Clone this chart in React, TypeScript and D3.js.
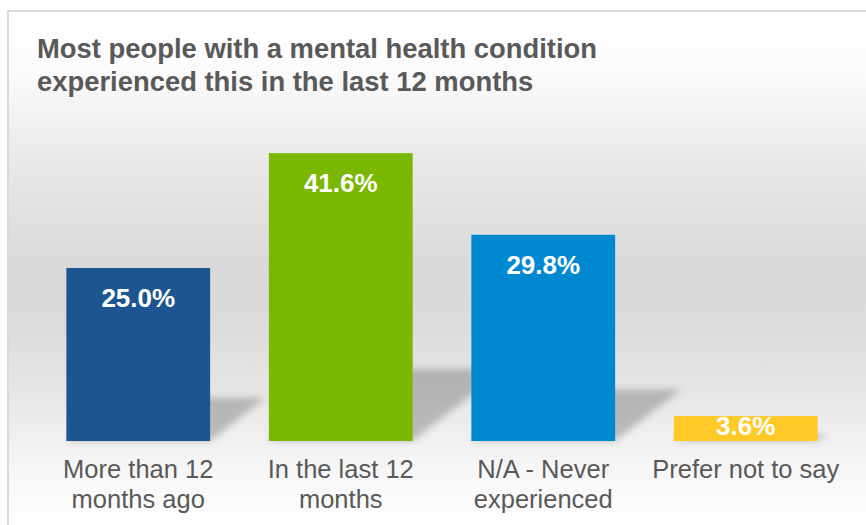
import * as d3 from "d3";

const categories = [
  "More than 12 months ago",
  "In the last 12 months",
  "N/A - Never experienced",
  "Prefer not to say",
];
const categoryLines = [
  ["More than 12", "months ago"],
  ["In the last 12", "months"],
  ["N/A - Never", "experienced"],
  ["Prefer not to say"],
];
const values = [25.0, 41.6, 29.8, 3.6];
const barColors = ["#1d5591", "#79b700", "#0089d1", "#ffc927"];
const titleLines = [
  "Most people with a mental health condition",
  "experienced this in the last 12 months",
];

const width = 866;
const height = 525;
const font = "'Liberation Sans', Arial, sans-serif";

const App = () => {
  const x = d3
    .scaleBand<string>()
    .domain(categories)
    .range([37, 847])
    .paddingInner(0.29)
    .paddingOuter(0.145);
  const y = d3.scaleLinear().domain([0, 50]).range([441, 95]);
  const fmt = (v: number) => d3.format(".1f")(v) + "%";
  const base = y(0);

  // perspective shadow falling up-right behind each bar
  const shadowPath = (v: number, c: string) => {
    const x0 = x(c)!;
    const x1 = x0 + x.bandwidth();
    const h = base - y(v);
    const top = base - h * 0.25;
    const dx = h * 0.32;
    const p = d3.path();
    p.moveTo(x0, base);
    p.lineTo(x1, base);
    p.lineTo(x1 + dx, top);
    p.lineTo(x0 + dx, top);
    p.closePath();
    return p.toString();
  };

  return (
    <svg
      width={width}
      height={height}
      style={{ position: "absolute", left: 0, top: 0 }}
    >
      <defs>
        <linearGradient id="bg" gradientUnits="userSpaceOnUse" x1={0} y1={11} x2={0} y2={525}>
          <stop offset={0} stopColor="#ffffff" />
          <stop offset={0.12} stopColor="#fbfbfb" />
          <stop offset={0.3} stopColor="#e8e8e8" />
          <stop offset={0.5} stopColor="#d9d9d9" />
          <stop offset={0.62} stopColor="#dcdcdc" />
          <stop offset={0.76} stopColor="#e8e8e8" />
          <stop offset={0.84} stopColor="#f1f1f1" />
          <stop offset={0.9} stopColor="#f7f7f7" />
          <stop offset={1} stopColor="#fefefe" />
        </linearGradient>
        <filter id="blur" x="-20%" y="-20%" width="140%" height="140%">
          <feGaussianBlur stdDeviation={3.5} />
        </filter>
      </defs>
      <rect
        x={8}
        y={11}
        width={880}
        height={540}
        fill="url(#bg)"
        stroke="#d9d9d9"
        strokeWidth={2}
      />
      {titleLines.map((t, i) => (
        <text
          key={t}
          x={37}
          y={58 + i * 33}
          fontFamily={font}
          fontWeight="bold"
          fontSize={27.4}
          fill="#595959"
        >
          {t}
        </text>
      ))}
      <g filter="url(#blur)">
        {values.map((v, i) => (
          <path
            key={i}
            d={shadowPath(v, categories[i])}
            fill="#000"
            fillOpacity={0.22}
          />
        ))}
      </g>
      {values.map((v, i) => (
        <rect
          key={i}
          x={x(categories[i])}
          y={y(v)}
          width={x.bandwidth()}
          height={base - y(v)}
          fill={barColors[i]}
        />
      ))}
      {values.map((v, i) => {
        const tall = base - y(v) > 50;
        return (
          <text
            key={i}
            x={x(categories[i])! + x.bandwidth() / 2}
            y={tall ? y(v) + 39 : base - 6}
            textAnchor="middle"
            fontFamily={font}
            fontWeight="bold"
            fontSize={26}
            fill="#ffffff"
          >
            {fmt(v)}
          </text>
        );
      })}
      {categoryLines.map((lines, i) =>
        lines.map((l, j) => (
          <text
            key={i + "-" + j}
            x={x(categories[i])! + x.bandwidth() / 2}
            y={478 + j * 30}
            textAnchor="middle"
            fontFamily={font}
            fontSize={25.5}
            fill="#595959"
          >
            {l}
          </text>
        ))
      )}
    </svg>
  );
};

export default App;
